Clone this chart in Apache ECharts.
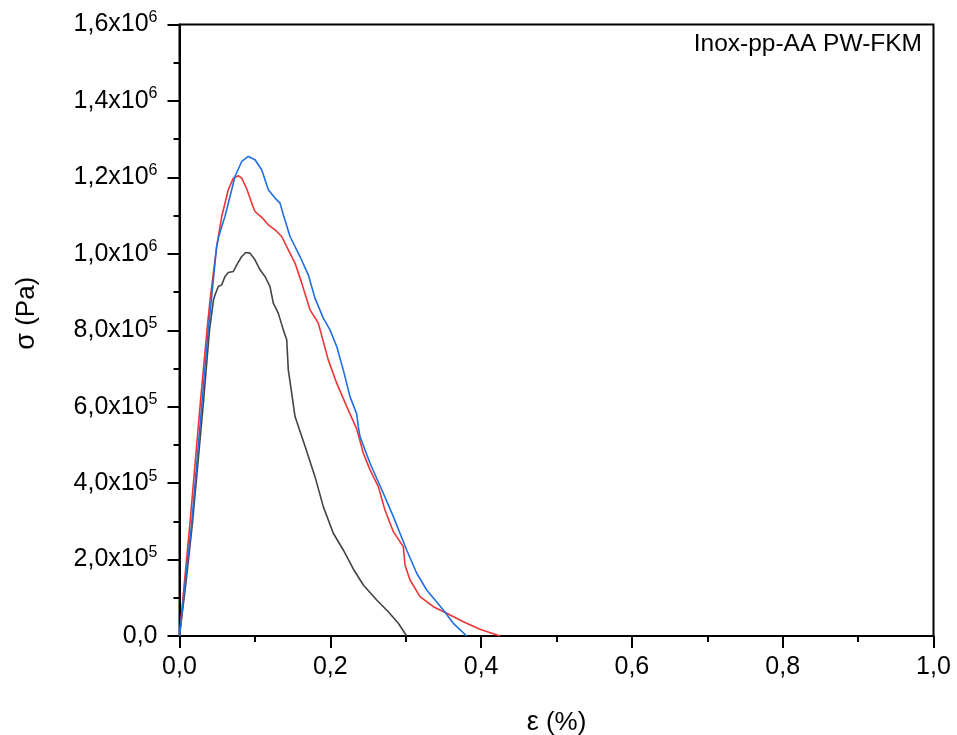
<!DOCTYPE html>
<html>
<head>
<meta charset="utf-8">
<script src="https://cdn.jsdelivr.net/npm/echarts@6/dist/echarts.min.js"></script>
<style>html,body{margin:0;padding:0;background:#fff}#c{width:957px;height:735px}</style>
</head>
<body>
<div id="c"></div>
<script>
// strain (%) , stress (Pa)
const blackCurve = [[0,0],[0.0086,140000],[0.0172,295800],[0.0312,599500],[0.0398,801000],[0.0451,879600],[0.0471,892500],[0.0515,914400],[0.056,918800],[0.0603,940600],[0.0647,951000],[0.0714,953700],[0.0759,971200],[0.0825,992900],[0.0878,1003400],[0.0935,1001800],[0.1001,984300],[0.1068,958100],[0.1134,940600],[0.12,914400],[0.1244,870900],[0.131,844800],[0.1377,801000],[0.1422,774900],[0.1443,696300],[0.1488,635300],[0.1532,574100],[0.1664,497400],[0.1797,417000],[0.1907,338500],[0.204,268800],[0.2172,225100],[0.2305,175400],[0.2438,133500],[0.2615,94200],[0.2769,63600],[0.2902,33200],[0.3013,0]];
const redCurve = [[0,0],[0.0065,140000],[0.0139,295800],[0.0272,600300],[0.0361,792400],[0.0405,879600],[0.0493,1019100],[0.056,1097600],[0.0647,1167500],[0.0714,1198100],[0.078,1204200],[0.0825,1198100],[0.0891,1170200],[0.0958,1132700],[0.1001,1110700],[0.109,1095500],[0.1178,1075900],[0.1267,1062800],[0.1355,1045300],[0.1443,1010500],[0.1532,975700],[0.1621,923300],[0.1731,853400],[0.1841,818600],[0.1973,722500],[0.2085,661500],[0.2218,600300],[0.235,541900],[0.2438,478300],[0.2527,434600],[0.2637,390800],[0.2725,329800],[0.2836,273000],[0.2968,233800],[0.2984,230400],[0.2991,185900],[0.3057,146600],[0.319,102900],[0.3366,76700],[0.3544,59400],[0.3764,37400],[0.3985,17500],[0.4251,0]];
const blueCurve = [[0,0],[0.0075,140000],[0.0162,295800],[0.0294,600300],[0.0382,801000],[0.0427,888200],[0.0493,1019100],[0.0515,1041100],[0.053,1038000],[0.056,1071400],[0.0603,1097600],[0.067,1150000],[0.0736,1202400],[0.0825,1241600],[0.0912,1254700],[0.1001,1246100],[0.109,1219900],[0.1178,1167500],[0.1267,1145800],[0.1333,1132700],[0.1377,1102100],[0.1466,1045300],[0.1598,992900],[0.1708,945000],[0.1797,884000],[0.1907,831700],[0.1996,801000],[0.2085,757300],[0.2172,696300],[0.2261,626400],[0.235,581200],[0.2371,547900],[0.2394,521700],[0.2527,452100],[0.2703,373600],[0.2836,312300],[0.3013,225100],[0.3146,164100],[0.3278,120400],[0.3499,68100],[0.3631,33200],[0.3809,0]];
const xTicks = [0, 0.2, 0.4, 0.6, 0.8, 1.0];
const yTicks = [0, 2e5, 4e5, 6e5, 8e5, 1e6, 1.2e6, 1.4e6, 1.6e6];
const sampleLabel = 'Inox-pp-AA PW-FKM';

const FONT = 'Liberation Sans, Arial, sans-serif';
function yFmt(v) {
  if (v === 0) return '{a|0,0}';
  const e = Math.floor(Math.log10(v) + 1e-9);
  const m = (v / Math.pow(10, e)).toFixed(1).replace('.', ',');
  return '{a|' + m + 'x10}{s|' + e + '}';
}
const chart = echarts.init(document.getElementById('c'), null, {renderer: 'canvas'});
chart.setOption({
  animation: false,
  backgroundColor: '#fff',
  grid: {left: 179.5, right: 23.5, top: 24.5, bottom: 99, containLabel: false, outerBoundsMode: 'none', show: true, borderColor: '#000', borderWidth: 2, backgroundColor: 'transparent'},
  xAxis: {
    type: 'value', min: xTicks[0], max: xTicks[xTicks.length - 1], interval: 0.2,
    name: '{g|ε} (%)', nameLocation: 'middle', nameGap: 73,
    nameTextStyle: {fontFamily: FONT, fontSize: 26, color: '#000', rich: {g: {fontFamily: FONT, fontSize: 27, color: '#000'}}},
    axisLine: {lineStyle: {color: '#000', width: 2}},
    axisTick: {show: true, inside: false, length: 12, lineStyle: {color: '#000', width: 2}},
    minorTick: {show: true, splitNumber: 2, length: 6, lineStyle: {color: '#000', width: 2}},
    splitLine: {show: false},
    axisLabel: {fontFamily: FONT, fontSize: 25, color: '#000', margin: 19, formatter: v => v.toFixed(1).replace('.', ',')}
  },
  yAxis: {
    type: 'value', min: yTicks[0], max: yTicks[yTicks.length - 1], interval: 2e5,
    name: '{g|σ} (Pa)', nameLocation: 'middle', nameGap: 139, nameRotate: 90,
    nameTextStyle: {fontFamily: FONT, fontSize: 26, color: '#000', padding: [0, 0, 0, 34], rich: {g: {fontFamily: FONT, fontSize: 27, color: '#000'}}},
    axisLine: {lineStyle: {color: '#000', width: 2}},
    axisTick: {show: true, inside: false, length: 12, lineStyle: {color: '#000', width: 2}},
    minorTick: {show: true, splitNumber: 2, length: 6, lineStyle: {color: '#000', width: 2}},
    splitLine: {show: false},
    axisLabel: {
      margin: 22, formatter: yFmt,
      rich: {
        a: {fontFamily: FONT, fontSize: 25, color: '#000', lineHeight: 30},
        s: {fontFamily: FONT, fontSize: 16, color: '#000', verticalAlign: 'top', lineHeight: 30, padding: [0, 0, 12, 0]}
      }
    }
  },
  graphic: [{
    type: 'text', right: 35, top: 32,
    style: {text: sampleLabel, font: '24.5px ' + FONT, fill: '#000'}
  }],
  series: [
    {type: 'line', data: blackCurve, showSymbol: false, lineStyle: {color: '#444444', width: 1.6}, itemStyle: {color: '#444444'}},
    {type: 'line', data: redCurve, showSymbol: false, lineStyle: {color: '#ee3535', width: 1.6}, itemStyle: {color: '#ee3535'}},
    {type: 'line', data: blueCurve, showSymbol: false, lineStyle: {color: '#1f6fe0', width: 1.6}, itemStyle: {color: '#1f6fe0'}}
  ]
});
</script>
</body>
</html>
